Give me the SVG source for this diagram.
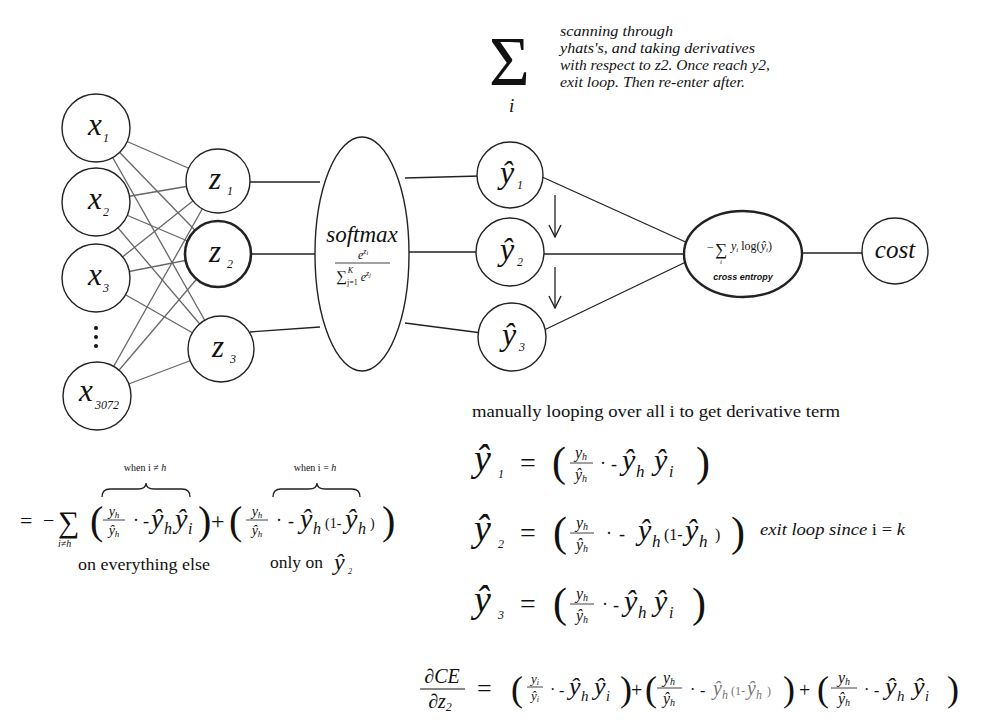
<svg xmlns="http://www.w3.org/2000/svg" width="1000" height="727" viewBox="0 0 1000 727">
<style>
.n{fill:#fff;stroke:#222;stroke-width:1.4}
.c{stroke:#222;stroke-width:1.3;fill:none}
.g{stroke:#666;stroke-width:1.3}
.m{font-family:"Liberation Serif",serif;font-style:italic;fill:#111}
.r{font-family:"Liberation Serif",serif;fill:#111}
.b{stroke:#111;stroke-width:0.8}
</style>
<defs>
<marker id="ah" viewBox="0 0 14 14" refX="13" refY="7" markerWidth="14" markerHeight="14" markerUnits="userSpaceOnUse" orient="auto">
<path d="M1,1 L13,7 L1,13" fill="none" stroke="#222" stroke-width="1.4"/>
</marker>
</defs>
<rect width="1000" height="727" fill="#fff"/>

<g id="connectors">
<line class="g" x1="96" y1="128" x2="218" y2="181"/>
<line class="g" x1="96" y1="128" x2="218" y2="254"/>
<line class="g" x1="96" y1="128" x2="221" y2="349"/>
<line class="g" x1="96" y1="202" x2="218" y2="181"/>
<line class="g" x1="96" y1="202" x2="218" y2="254"/>
<line class="g" x1="96" y1="202" x2="221" y2="349"/>
<line class="g" x1="96" y1="278" x2="218" y2="181"/>
<line class="g" x1="96" y1="278" x2="218" y2="254"/>
<line class="g" x1="96" y1="278" x2="221" y2="349"/>
<line class="g" x1="97" y1="396" x2="218" y2="181"/>
<line class="g" x1="97" y1="396" x2="218" y2="254"/>
<line class="g" x1="97" y1="396" x2="221" y2="349"/>
<line class="c" x1="248" y1="182" x2="320" y2="182"/>
<line class="c" x1="248" y1="254" x2="320" y2="254"/>
<line class="c" x1="250" y1="332" x2="320" y2="327"/>
<line class="c" x1="405" y1="178" x2="480" y2="176"/>
<line class="c" x1="405" y1="252" x2="480" y2="252"/>
<line class="c" x1="405" y1="323" x2="482" y2="333"/>
<line class="c" x1="540" y1="176" x2="690" y2="244"/>
<line class="c" x1="540" y1="254" x2="690" y2="254"/>
<line class="c" x1="540" y1="332" x2="690" y2="260"/>
<line class="c" x1="800" y1="253" x2="865" y2="253"/>
<line class="c" x1="555" y1="195" x2="555" y2="237" marker-end="url(#ah)"/>
<line class="c" x1="555" y1="267" x2="555" y2="308" marker-end="url(#ah)"/>
</g>

<g id="x1"><circle class="n" cx="96" cy="128" r="34"/><text class="m" x="88" y="135" font-size="31">x</text><text class="m" x="103" y="142" font-size="12">1</text></g>
<g id="x2"><circle class="n" cx="96" cy="202" r="34"/><text class="m" x="88" y="209" font-size="31">x</text><text class="m" x="103" y="216" font-size="12">2</text></g>
<g id="x3"><circle class="n" cx="96" cy="278" r="34"/><text class="m" x="88" y="285" font-size="31">x</text><text class="m" x="103" y="292" font-size="12">3</text></g>
<g id="dots"><circle cx="96" cy="328" r="2" fill="#111"/><circle cx="96" cy="337" r="2" fill="#111"/><circle cx="96" cy="346" r="2" fill="#111"/></g>
<g id="x3072"><circle class="n" cx="97" cy="396" r="34"/><text class="m" x="79" y="401" font-size="31">x</text><text class="m" x="95" y="409" font-size="12">3072</text></g>

<g id="z1"><circle class="n" cx="218" cy="181" r="32"/><text class="m" x="209" y="189" font-size="31">z</text><text class="m" x="227" y="195" font-size="12">1</text></g>
<g id="z2"><circle cx="218" cy="254" r="33" fill="#fff" stroke="#222" stroke-width="2.6"/><text class="m" x="209" y="262" font-size="31">z</text><text class="m" x="227" y="268" font-size="12">2</text></g>
<g id="z3"><circle class="n" cx="221" cy="349" r="33"/><text class="m" x="212" y="357" font-size="31">z</text><text class="m" x="230" y="363" font-size="12">3</text></g>

<g id="softmax"><ellipse class="n" cx="362" cy="254" rx="47" ry="117"/>
<text class="m" x="362" y="242" font-size="23" text-anchor="middle">softmax</text>
<text class="m" x="358" y="259" font-size="12">e<tspan font-size="8" dy="-5">z</tspan><tspan font-size="6" dy="1">i</tspan></text>
<line class="b" x1="335" y1="263" x2="390" y2="263"/>
<text class="r" x="336" y="281" font-size="15">∑<tspan class="m" font-size="8" dx="1" dy="-8">K</tspan><tspan font-size="8" dx="-6" dy="12">j=1</tspan><tspan class="m" font-size="12" dx="3" dy="-4">e</tspan><tspan class="m" font-size="8" dy="-5">z</tspan><tspan class="m" font-size="6" dy="1">j</tspan></text>
</g>

<g id="yhat1"><circle class="n" cx="510" cy="175" r="33"/><text class="m" x="500" y="183" font-size="32">ŷ</text><text class="m" x="517" y="189" font-size="12">1</text></g>
<g id="yhat2"><circle class="n" cx="510" cy="252" r="34"/><text class="m" x="500" y="260" font-size="32">ŷ</text><text class="m" x="517" y="266" font-size="12">2</text></g>
<g id="yhat3"><circle class="n" cx="512" cy="337" r="34"/><text class="m" x="502" y="345" font-size="32">ŷ</text><text class="m" x="519" y="351" font-size="12">3</text></g>

<g id="crossentropy"><ellipse cx="743" cy="254" rx="59" ry="43" fill="#fff" stroke="#222" stroke-width="2.4"/>
<text class="r" x="707" y="251" font-size="12">−</text>
<text class="r" x="715" y="255" font-size="17">∑</text>
<text class="m" x="720" y="264" font-size="7">i</text>
<text class="r" x="731" y="250" font-size="12"><tspan class="m">y</tspan><tspan class="m" font-size="7" dy="2">i</tspan><tspan dy="-2"> log(</tspan><tspan class="m">ŷ</tspan><tspan class="m" font-size="7" dy="2">i</tspan><tspan dy="-2">)</tspan></text>
<text x="743" y="280" font-size="9" text-anchor="middle" font-family="Liberation Sans,sans-serif" font-style="italic" font-weight="bold" fill="#111">cross entropy</text>
</g>

<g id="cost"><circle class="n" cx="895" cy="251" r="33"/><text class="m" x="895" y="258" font-size="25" text-anchor="middle">cost</text></g>

<g id="sum-note">
<text class="r" x="489" y="85" font-size="70">Σ</text>
<text class="m" x="509" y="112" font-size="19">i</text>
<g class="m" font-size="15">
<text x="560" y="36" textLength="113" lengthAdjust="spacingAndGlyphs">scanning through</text>
<text x="560" y="53" textLength="195" lengthAdjust="spacingAndGlyphs">yhats's, and taking derivatives</text>
<text x="560" y="70" textLength="210" lengthAdjust="spacingAndGlyphs">with respect to z2. Once reach y2,</text>
<text x="560" y="87" textLength="185" lengthAdjust="spacingAndGlyphs">exit loop. Then re-enter after.</text>
</g>
</g>

<g id="left-formula">
<text class="r" x="145" y="471" font-size="10" text-anchor="middle">when i ≠ <tspan class="m">h</tspan></text>
<path class="c" d="M102,497 Q102,489 110,489 L138,489 Q146,489 146,483 Q146,489 154,489 L182,489 Q190,489 190,497"/>
<text class="r" x="315" y="471" font-size="10" text-anchor="middle">when i = <tspan class="m">h</tspan></text>
<path class="c" d="M273,497 Q273,489 281,489 L309,489 Q317,489 317,483 Q317,489 325,489 L352,489 Q360,489 360,497"/>
<text class="r" x="20" y="528" font-size="22">=</text>
<text class="r" x="43" y="527" font-size="20">−</text>
<text class="r" x="58" y="532" font-size="30">∑</text>
<text class="m" x="58" y="547" font-size="10">i≠h</text>
<text class="r" x="90" y="534" font-size="40">(</text>
<text class="m" x="114" y="516" font-size="14" text-anchor="middle">y<tspan font-size="9" dy="2">h</tspan></text>
<line class="b" x1="103" y1="520" x2="125" y2="520"/>
<text class="m" x="114" y="535" font-size="14" text-anchor="middle">ŷ<tspan font-size="9" dy="2">h</tspan></text>
<text class="r" x="133" y="526" font-size="18">·</text>
<text class="r" x="143" y="527" font-size="18">-</text>
<text class="m" x="151" y="528" font-size="28">ŷ</text><text class="m" x="164" y="534" font-size="16">h</text>
<text class="m" x="175" y="528" font-size="28">ŷ</text><text class="m" x="188" y="534" font-size="16">i</text>
<text class="r" x="198" y="534" font-size="40">)</text>
<text class="r" x="211" y="529" font-size="24">+</text>
<text class="r" x="229" y="534" font-size="40">(</text>
<text class="m" x="257" y="516" font-size="14" text-anchor="middle">y<tspan font-size="9" dy="2">h</tspan></text>
<line class="b" x1="246" y1="520" x2="268" y2="520"/>
<text class="m" x="257" y="535" font-size="14" text-anchor="middle">ŷ<tspan font-size="9" dy="2">h</tspan></text>
<text class="r" x="276" y="526" font-size="18">·</text>
<text class="r" x="288" y="527" font-size="18">-</text>
<text class="m" x="300" y="528" font-size="28">ŷ</text><text class="m" x="313" y="534" font-size="16">h</text>
<text class="r" x="325" y="528" font-size="14">(1-</text>
<text class="m" x="345" y="528" font-size="28">ŷ</text><text class="m" x="358" y="534" font-size="16">h</text>
<text class="r" x="370" y="528" font-size="14">)</text>
<text class="r" x="382" y="534" font-size="40">)</text>
<text class="r" x="78" y="570" font-size="16" textLength="132" lengthAdjust="spacingAndGlyphs">on everything else</text>
<text class="r" x="270" y="568" font-size="16" textLength="53" lengthAdjust="spacingAndGlyphs">only on</text>
<text class="m" x="334" y="570" font-size="24">ŷ</text><text class="m" x="348" y="574" font-size="8">2</text>
</g>

<g id="right-formulas">
<text class="r" x="472" y="417" font-size="17" textLength="368" lengthAdjust="spacingAndGlyphs">manually looping over all i to get derivative term</text>

<g id="row1">
<text class="m" x="474" y="471" font-size="38">ŷ</text><text class="m" x="498" y="478" font-size="12">1</text>
<text class="r" x="520" y="472" font-size="28">=</text>
<text class="r" x="552" y="476" font-size="42">(</text>
<text class="m" x="581" y="458" font-size="16" text-anchor="middle">y<tspan font-size="10" dy="2">h</tspan></text>
<line class="b" x1="570" y1="463" x2="593" y2="463"/>
<text class="m" x="581" y="480" font-size="16" text-anchor="middle">ŷ<tspan font-size="10" dy="2">h</tspan></text>
<text class="r" x="600" y="469" font-size="18">·</text>
<text class="r" x="611" y="470" font-size="18">-</text>
<text class="m" x="622" y="470" font-size="30">ŷ</text><text class="m" x="636" y="477" font-size="17">h</text>
<text class="m" x="654" y="470" font-size="30">ŷ</text><text class="m" x="669" y="477" font-size="16">i</text>
<text class="r" x="696" y="476" font-size="42">)</text>
</g>

<g id="row2">
<text class="m" x="474" y="541" font-size="38">ŷ</text><text class="m" x="498" y="548" font-size="12">2</text>
<text class="r" x="520" y="542" font-size="28">=</text>
<text class="r" x="553" y="546" font-size="42">(</text>
<text class="m" x="582" y="528" font-size="16" text-anchor="middle">y<tspan font-size="10" dy="2">h</tspan></text>
<line class="b" x1="570" y1="533" x2="594" y2="533"/>
<text class="m" x="582" y="550" font-size="16" text-anchor="middle">ŷ<tspan font-size="10" dy="2">h</tspan></text>
<text class="r" x="606" y="539" font-size="18">·</text>
<text class="r" x="619" y="540" font-size="18">-</text>
<text class="m" x="638" y="540" font-size="30">ŷ</text><text class="m" x="652" y="547" font-size="17">h</text>
<text class="r" x="664" y="540" font-size="16">(1-</text>
<text class="m" x="685" y="540" font-size="30">ŷ</text><text class="m" x="699" y="547" font-size="17">h</text>
<text class="r" x="715" y="540" font-size="16">)</text>
<text class="r" x="731" y="546" font-size="42">)</text>
<text class="m" x="760" y="535" font-size="17" textLength="145" lengthAdjust="spacingAndGlyphs">exit loop since <tspan font-style="normal">i = </tspan>k</text>
</g>

<g id="row3">
<text class="m" x="474" y="612" font-size="38">ŷ</text><text class="m" x="498" y="619" font-size="12">3</text>
<text class="r" x="520" y="613" font-size="28">=</text>
<text class="r" x="553" y="617" font-size="42">(</text>
<text class="m" x="582" y="599" font-size="16" text-anchor="middle">y<tspan font-size="10" dy="2">h</tspan></text>
<line class="b" x1="570" y1="604" x2="594" y2="604"/>
<text class="m" x="582" y="621" font-size="16" text-anchor="middle">ŷ<tspan font-size="10" dy="2">h</tspan></text>
<text class="r" x="602" y="610" font-size="18">·</text>
<text class="r" x="613" y="611" font-size="18">-</text>
<text class="m" x="624" y="611" font-size="30">ŷ</text><text class="m" x="638" y="618" font-size="17">h</text>
<text class="m" x="654" y="611" font-size="30">ŷ</text><text class="m" x="669" y="618" font-size="16">i</text>
<text class="r" x="692" y="617" font-size="42">)</text>
</g>

<g id="final">
<text class="m" x="442" y="683" font-size="20" text-anchor="middle">∂CE</text>
<line x1="420" y1="689" x2="465" y2="689" stroke="#111" stroke-width="1"/>
<text class="m" x="440" y="708" font-size="20" text-anchor="middle">∂z<tspan font-size="12" dy="3">2</tspan></text>
<text class="r" x="477" y="697" font-size="26">=</text>
<text class="r" x="511" y="701" font-size="36">(</text>
<text class="m" x="535" y="683" font-size="13" text-anchor="middle">y<tspan font-size="8" dy="2">i</tspan></text>
<line class="b" x1="527" y1="687" x2="543" y2="687" stroke-width="0.7"/>
<text class="m" x="535" y="700" font-size="13" text-anchor="middle">ŷ<tspan font-size="8" dy="2">i</tspan></text>
<text class="r" x="550" y="695" font-size="16">·</text>
<text class="r" x="559" y="696" font-size="16">-</text>
<text class="m" x="569" y="695" font-size="26">ŷ</text><text class="m" x="581" y="701" font-size="15">h</text>
<text class="m" x="594" y="695" font-size="26">ŷ</text><text class="m" x="606" y="701" font-size="14">i</text>
<text class="r" x="620" y="701" font-size="36">)</text>
<text class="r" x="631" y="697" font-size="20">+</text>
<text class="r" x="645" y="701" font-size="36">(</text>
<text class="m" x="669" y="683" font-size="16" text-anchor="middle">y<tspan font-size="10" dy="2">h</tspan></text>
<line class="b" x1="657" y1="688" x2="682" y2="688"/>
<text class="m" x="669" y="704" font-size="16" text-anchor="middle">ŷ<tspan font-size="10" dy="2">h</tspan></text>
<text class="r" x="690" y="695" font-size="16">·</text>
<text class="r" x="700" y="696" font-size="16">-</text>
<g fill="#777" font-family="Liberation Serif,serif">
<text x="713" y="695" font-size="20" font-style="italic">ŷ</text><text x="722" y="699" font-size="12" font-style="italic">h</text>
<text x="731" y="695" font-size="12">(1-</text>
<text x="747" y="695" font-size="20" font-style="italic">ŷ</text><text x="756" y="699" font-size="12" font-style="italic">h</text>
<text x="767" y="695" font-size="12">)</text>
</g>
<text class="r" x="783" y="701" font-size="36">)</text>
<text class="r" x="799" y="697" font-size="20">+</text>
<text class="r" x="817" y="701" font-size="36">(</text>
<text class="m" x="844" y="683" font-size="16" text-anchor="middle">y<tspan font-size="10" dy="2">h</tspan></text>
<line class="b" x1="831" y1="688" x2="857" y2="688"/>
<text class="m" x="844" y="704" font-size="16" text-anchor="middle">ŷ<tspan font-size="10" dy="2">h</tspan></text>
<text class="r" x="864" y="695" font-size="16">·</text>
<text class="r" x="874" y="696" font-size="16">-</text>
<text class="m" x="885" y="695" font-size="26">ŷ</text><text class="m" x="897" y="701" font-size="15">h</text>
<text class="m" x="913" y="695" font-size="26">ŷ</text><text class="m" x="925" y="701" font-size="14">i</text>
<text class="r" x="947" y="701" font-size="36">)</text>
</g>
</g>
</svg>
